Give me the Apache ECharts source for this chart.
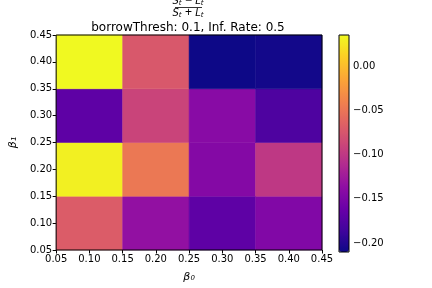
<!DOCTYPE html>
<html><head><meta charset="utf-8">
<script src="https://cdn.jsdelivr.net/npm/echarts@6/dist/echarts.min.js"></script>
<style>html,body{margin:0;padding:0;background:#fff}#c{width:432px;height:288px}</style>
</head><body><div id="c"></div>
<script>
// Cell centres
const beta0 = [0.10, 0.20, 0.30, 0.40];
const beta1 = [0.10, 0.20, 0.30, 0.40];
// values per row (beta1), columns beta0
const row010 = [-0.070, -0.134, -0.168, -0.146];
const row020 = [0.030, -0.048, -0.144, -0.100];
const row030 = [-0.168, -0.090, -0.141, -0.178];
const row040 = [0.035, -0.073, -0.210, -0.207];
const axisTicks = [0.05, 0.10, 0.15, 0.20, 0.25, 0.30, 0.35, 0.40, 0.45];
const cbarTicks = [-0.20, -0.15, -0.10, -0.05, 0.00];
const vmin = -0.210, vmax = 0.035;
const cellHalf = 0.05;

const rows = [row010, row020, row030, row040];
const data = [];
rows.forEach((r, j) => r.forEach((v, i) => data.push([beta0[i], beta1[j], v])));

const plasma = ['#0d0887','#41049d','#6a00a8','#8f0da4','#b12a90','#cc4778','#e16462','#f2844b','#fca636','#fcce25','#f0f921'];
const fmt = v => (v < 0 ? '\u2212' : '') + Math.abs(v).toFixed(2);
const font = 'DejaVu Sans';

const chart = echarts.init(document.getElementById('c'), null, {renderer: 'canvas'});
chart.setOption({
  animation: false,
  textStyle: {fontFamily: font},
  grid: [
    {left: 54, top: 35, width: 268, height: 217, show: true, borderColor: '#000', borderWidth: 1, z: 10},
    {left: 339, top: 35, width: 10, height: 217, show: true, borderColor: '#000', borderWidth: 1, backgroundColor: 'transparent', z: 10}
  ],
  xAxis: [
    {type: 'value', gridIndex: 0, min: 0.05, max: 0.45, interval: 0.05,
     axisLine: {show: false}, splitLine: {show: false},
     axisTick: {show: true, length: 3.5, lineStyle: {color: '#000'}},
     axisLabel: {color: '#000', fontSize: 10, margin: 4, fontFamily: font, formatter: v => v.toFixed(2)},
     name: '\u03b2\u2080', nameLocation: 'middle', nameGap: 22,
     nameTextStyle: {color: '#000', fontSize: 11, fontStyle: 'italic', fontFamily: font}},
    {type: 'value', gridIndex: 1, min: 0, max: 1, show: false}
  ],
  yAxis: [
    {type: 'value', gridIndex: 0, min: 0.05, max: 0.45, interval: 0.05,
     axisLine: {show: false}, splitLine: {show: false},
     axisTick: {show: true, length: 3.5, lineStyle: {color: '#000'}},
     axisLabel: {color: '#000', fontSize: 10, margin: 4, fontFamily: font, formatter: v => v.toFixed(2)},
     name: '\u03b2\u2081', nameLocation: 'middle', nameGap: 36, nameRotate: 90,
     nameTextStyle: {color: '#000', fontSize: 11, fontStyle: 'italic', fontFamily: font}},
    {type: 'value', gridIndex: 1, min: vmin, max: vmax, position: 'right',
     axisLine: {show: false}, splitLine: {show: false},
     axisTick: {show: true, length: 3.5, lineStyle: {color: '#000'}, customValues: cbarTicks},
     axisLabel: {color: '#000', fontSize: 10, margin: 4, fontFamily: font, customValues: cbarTicks, formatter: fmt}}
  ],
  visualMap: {
    type: 'continuous', min: vmin, max: vmax, dimension: 2, seriesIndex: 0,
    inRange: {color: plasma}, calculable: false, text: null, showLabel: false,
    left: 339, top: 35, itemWidth: 10, itemHeight: 217, padding: 0, realtime: false,
    textStyle: {color: 'transparent'}
  },
  series: [{
    type: 'custom', xAxisIndex: 0, yAxisIndex: 0, data: data,
    renderItem: (params, api) => {
      const x = api.value(0), y = api.value(1);
      const p1 = api.coord([x - cellHalf, y + cellHalf]);
      const p2 = api.coord([x + cellHalf, y - cellHalf]);
      return {type: 'rect', shape: {x: p1[0], y: p1[1], width: p2[0] - p1[0], height: p2[1] - p1[1]},
              style: {fill: api.visual('color'), stroke: api.visual('color'), lineWidth: 0.5}};
    }
  }],
  graphic: [
    {type: 'text', x: 188, y: 28, style: {text: 'borrowThresh: 0.1, Inf. Rate: 0.5', align: 'center', verticalAlign: 'middle', fill: '#000', font: '12px "DejaVu Sans"'}, z: 20},
    {type: 'text', x: 188, y: 1, style: {text: '{i|S}{s|t} \u2212 {i|L}{s|t}', align: 'center', verticalAlign: 'middle', fill: '#000',
      rich: {i: {fontSize: 10, fontStyle: 'italic', fontFamily: font}, s: {fontSize: 7, fontStyle: 'italic', fontFamily: font, verticalAlign: 'bottom', padding: [4,0,0,0]}}}},
    {type: 'line', shape: {x1: 175, y1: 7.5, x2: 202, y2: 7.5}, style: {stroke: '#000', lineWidth: 0.8}},
    {type: 'text', x: 188, y: 13, style: {text: '{i|S}{s|t} + {i|L}{s|t}', align: 'center', verticalAlign: 'middle', fill: '#000',
      rich: {i: {fontSize: 10, fontStyle: 'italic', fontFamily: font}, s: {fontSize: 7, fontStyle: 'italic', fontFamily: font, verticalAlign: 'bottom', padding: [4,0,0,0]}}}}
  ]
});
</script></body></html>
